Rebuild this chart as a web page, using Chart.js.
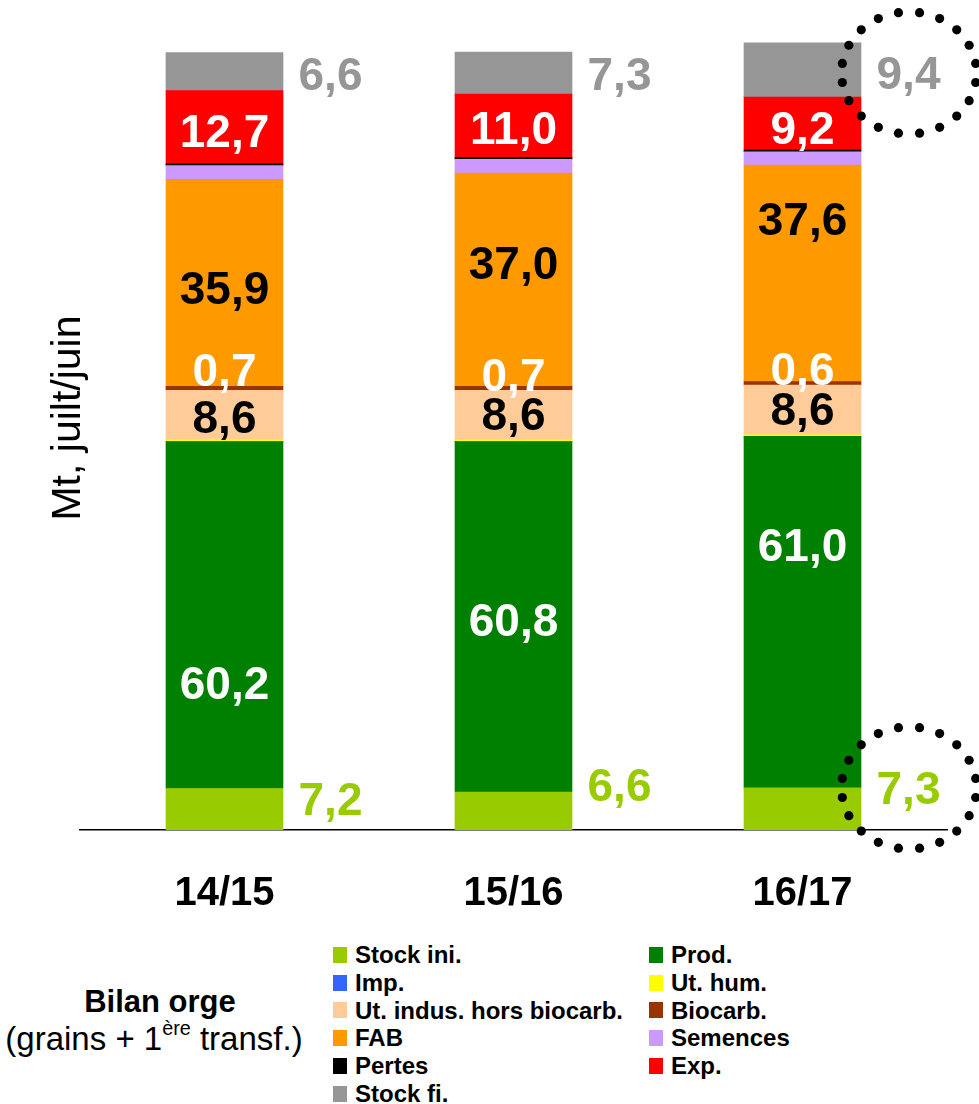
<html>
<head>
<script src="https://cdn.jsdelivr.net/npm/chart.js"></script>
<style>
  body { margin: 0; background: #fff; }
  #wrap { position: relative; width: 979px; height: 1104px; font-family: "Liberation Sans", Arial, sans-serif; color: #000; }
  #myChart { position: absolute; left: 0; top: 0; }
  #legend { position: absolute; left: 333px; top: 941px; display: grid; grid-template-columns: 316px 300px; }
  .item { height: 27.8px; line-height: 27.8px; display: flex; align-items: center; font-weight: bold; font-size: 24px; white-space: nowrap; }
  .box { width: 14px; height: 16px; margin-right: 8px; flex: none; }
  .cap { position: absolute; left: 0; text-align: center; line-height: 1; white-space: nowrap; }
  sup { font-size: 60%; line-height: 0; vertical-align: 0.75em; }
</style>
</head>
<body>
<div id="wrap">
  <canvas id="myChart" width="979" height="930"></canvas>
  <div class="cap" style="top:986px; width:320px; font-size:31px; font-weight:bold;">Bilan orge</div>
  <div class="cap" style="top:1022px; width:308px; font-size:33px;">(grains + 1<sup>ère</sup> transf.)</div>
  <div id="legend"></div>
</div>
<script>
var categories = ['14/15', '15/16', '16/17'];

// Mt, juillet/juin
var stockIni = [7.2, 6.6, 7.3];
var prod     = [60.2, 60.8, 61.0];
var imp      = [0, 0, 0];
var utHum    = [0.3, 0.3, 0.3];
var utIndus  = [8.6, 8.6, 8.6];
var biocarb  = [0.7, 0.7, 0.6];
var fab      = [35.9, 37.0, 37.6];
var semences = [2.4, 2.4, 2.3];
var pertes   = [0.3, 0.3, 0.3];
var exp      = [12.7, 11.0, 9.2];
var stockFi  = [6.6, 7.3, 9.4];

var FONT = '"Liberation Sans", Arial, sans-serif';

// value labels: colour, horizontal shift, vertical shift (px) per bar
var labelStyle = {
  'Stock ini.': { color: '#99CC00', dx: 106, dy: [-11, -26, -21], circle: [2] },
  'Prod.': { color: '#FFFFFF', dx: 0, dy: [67, 3, -68] },
  'Ut. indus. hors biocarb.': { color: '#000000', dx: 0, dy: [1, -2, -1] },
  'Biocarb.': { color: '#FFFFFF', dx: 0, dy: [-19, -14, -15] },
  'FAB': { color: '#000000', dx: 0, dy: [5, -17, -55] },
  'Exp.': { color: '#FFFFFF', dx: 0, dy: [3, 2, 4] },
  'Stock fi.': { color: '#969696', dx: 106, dy: [2, 0, 3], circle: [2] }
};

var valueLabels = {
  id: 'valueLabels',
  afterDatasetsDraw: function(chart) {
    var ctx = chart.ctx;
    var size = 46;
    ctx.save();
    ctx.font = 'bold ' + size + 'px ' + FONT;
    ctx.textAlign = 'center';
    ctx.textBaseline = 'alphabetic';
    chart.data.datasets.forEach(function(ds, di) {
      var st = labelStyle[ds.label];
      if (!st) return;
      var meta = chart.getDatasetMeta(di);
      meta.data.forEach(function(bar, i) {
        var cx = bar.x + st.dx;
        var cy = (bar.y + bar.base) / 2 + st.dy[i];
        ctx.fillStyle = st.color;
        ctx.fillText(ds.data[i].toFixed(1).replace('.', ','), cx, cy + size * 0.358);
        if (st.circle && st.circle.indexOf(i) >= 0) {
          // dotted ring round the label
          ctx.fillStyle = '#000';
          for (var k = 0; k < 20; k++) {
            var a = (9 + k * 18) * Math.PI / 180;
            ctx.beginPath();
            ctx.arc(cx + 0.5 + 67.5 * Math.cos(a), cy + 61 * Math.sin(a), 4.6, 0, Math.PI * 2);
            ctx.fill();
          }
          ctx.fillStyle = st.color;
        }
      });
    });
    ctx.restore();
  }
};

var ds = function(label, data, color) {
  return { label: label, data: data, backgroundColor: color, borderWidth: 0, barThickness: 117 };
};

var chart = new Chart(document.getElementById('myChart').getContext('2d'), {
  type: 'bar',
  data: {
    labels: categories,
    datasets: [
      ds('Stock ini.', stockIni, '#99CC00'),
      ds('Prod.', prod, '#008000'),
      ds('Imp.', imp, '#3366FF'),
      ds('Ut. hum.', utHum, '#FFFF00'),
      ds('Ut. indus. hors biocarb.', utIndus, '#FFCC99'),
      ds('Biocarb.', biocarb, '#993300'),
      ds('FAB', fab, '#FF9900'),
      ds('Semences', semences, '#CC99FF'),
      ds('Pertes', pertes, '#000000'),
      ds('Exp.', exp, '#FF0000'),
      ds('Stock fi.', stockFi, '#969696')
    ]
  },
  options: {
    responsive: false,
    animation: false,
    layout: { padding: { top: 6, right: 32, left: 0, bottom: 0 } },
    plugins: { legend: { display: false }, tooltip: { enabled: false } },
    scales: {
      x: {
        stacked: true,
        grid: { display: false, drawTicks: false },
        border: { display: true, color: '#000', width: 1.5 },
        ticks: { color: '#000', padding: 40, font: { family: FONT, size: 40, weight: 'bold' } },
        afterFit: function(s) { s.height = 100; }
      },
      y: {
        stacked: true,
        min: 0,
        max: 143,
        grid: { display: false, drawTicks: false },
        border: { display: false },
        ticks: { display: false },
        title: { display: true, text: 'Mt, juilt/juin', color: '#000', padding: { top: 44, bottom: 0 }, font: { family: FONT, size: 41 } },
        afterFit: function(s) { s.width = 80; }
      }
    }
  },
  plugins: [valueLabels]
});

// two-column legend built from the datasets
var legend = document.getElementById('legend');
chart.data.datasets.forEach(function(d) {
  var item = document.createElement('div');
  item.className = 'item';
  var box = document.createElement('span');
  box.className = 'box';
  box.style.background = d.backgroundColor;
  item.appendChild(box);
  item.appendChild(document.createTextNode(d.label));
  legend.appendChild(item);
});
</script>
</body>
</html>
